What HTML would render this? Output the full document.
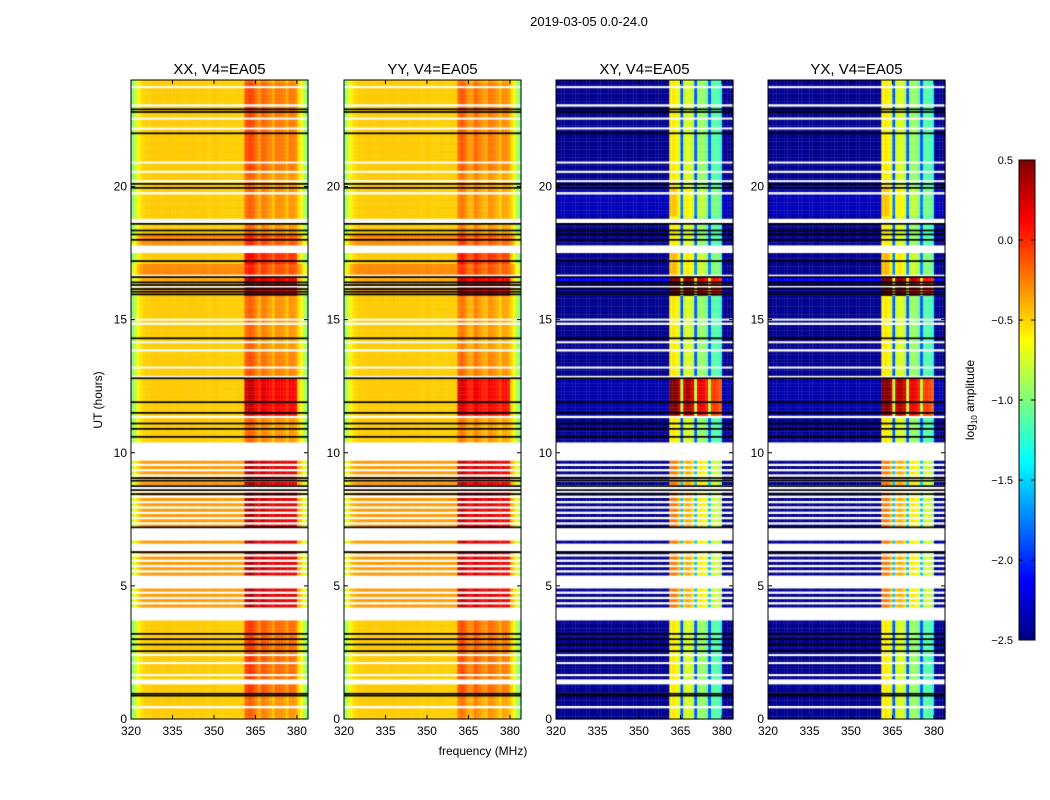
<!DOCTYPE html>
<html><head><meta charset="utf-8">
<style>
body{margin:0;background:#fff;font-family:"Liberation Sans","DejaVu Sans",sans-serif;}
#wrap{position:relative;width:1050px;height:800px;overflow:hidden;}
canvas{position:absolute;left:0;top:0;}
svg{position:absolute;left:0;top:0;}
text{font-family:"Liberation Sans","DejaVu Sans",sans-serif;}
</style></head><body>
<div id="wrap">
<canvas id="cv" width="1050" height="800"></canvas>
<svg id="sv" width="1050" height="800"></svg>
</div>
<script>
// ---- data ----
const panelTitles = ["XX, V4=EA05","YY, V4=EA05","XY, V4=EA05","YX, V4=EA05"];
const xTicks = [320,335,350,365,380];
const yTicks = [0,5,10,15,20];
const cbTicks = [0.5,0.0,-0.5,-1.0,-1.5,-2.0,-2.5];
const cbLabels = ["0.5","0.0","\u22120.5","\u22121.0","\u22121.5","\u22122.0","\u22122.5"];
// per-MHz channel base amplitude, 320..383 MHz (log10)
const parBase = [-1.0,-0.8,-0.65,-0.55,-0.5,-0.48,-0.48,-0.47,-0.47,-0.47,-0.47,-0.47,-0.47,-0.47,-0.47,-0.47,-0.47,-0.47,-0.47,-0.47,
 -0.47,-0.47,-0.47,-0.47,-0.47,-0.47,-0.47,-0.48,-0.48,-0.47,-0.47,-0.48,-0.48,-0.48,-0.48,-0.48,-0.48,-0.48,-0.48,-0.48,
 -0.48,-0.2,-0.15,-0.15,-0.2,-0.3,-0.4,-0.25,-0.25,-0.3,-0.35,-0.45,-0.3,-0.3,-0.3,-0.35,-0.45,-0.3,-0.3,-0.35,-0.5,-0.6,-0.8,-1.0];
const parBase2 = [-0.95,-0.75,-0.6,-0.53,-0.5,-0.48,-0.48,-0.47,-0.47,-0.47,-0.47,-0.47,-0.47,-0.47,-0.47,-0.47,-0.47,-0.47,-0.47,-0.47,
 -0.47,-0.47,-0.47,-0.47,-0.47,-0.47,-0.47,-0.48,-0.48,-0.47,-0.47,-0.48,-0.48,-0.48,-0.48,-0.48,-0.48,-0.48,-0.48,-0.48,
 -0.48,-0.25,-0.2,-0.25,-0.35,-0.4,-0.4,-0.25,-0.3,-0.35,-0.4,-0.45,-0.3,-0.3,-0.35,-0.4,-0.5,-0.35,-0.35,-0.4,-0.5,-0.65,-0.85,-1.0];
const crossBase = [-2.45,-2.45,-2.45,-2.45,-2.45,-2.45,-2.45,-2.45,-2.45,-2.45,-2.45,-2.45,-2.45,-2.45,-2.45,-2.45,-2.45,-2.45,-2.45,-2.45,
 -2.45,-2.45,-2.45,-2.45,-2.45,-2.45,-2.45,-2.45,-2.45,-2.45,-2.45,-2.45,-2.45,-2.45,-2.45,-2.45,-2.45,-2.45,-2.45,-2.45,
 -2.45,-0.6,-0.55,-0.6,-0.75,-1.9,-0.8,-0.7,-0.75,-0.85,-1.9,-0.95,-0.9,-0.95,-1.05,-1.9,-1.15,-1.1,-1.15,-1.25,-2.4,-2.45,-2.45,-2.45];
const parRowBand = [[11.3,12.8,0.45],[15.9,16.6,0.42],[17.1,17.5,0.3],[0.9,3.7,0.12],[4.2,9.85,0.4],[20.6,23.9,0.08],[12.9,13.8,0.05]];
const parRowAll = [[17.85,18.2,0.2],[16.75,17.1,0.2],[4.2,9.85,0.15],[15.9,16.6,0.1]];
const crossRowBand = [[11.3,12.8,1.0],[15.9,16.6,0.9],[4.2,9.85,0.35],[16.75,17.5,0.15]];
const crossRowAll = [[15.9,16.6,0.3],[11.3,12.8,0.08],[18.9,20.0,0.12]];
const whiteSegs = [[23.0,23.1],[19.7,19.85],[18.65,18.8],[17.5,17.8],[16.65,16.75],[14.8,14.9],[13.85,13.95],[12.85,12.9],[11.3,11.45],[9.85,10.45],[3.7,4.2],[1.35,1.5],[0.4,0.55]];
const whiteLines = [23.73,22.55,22.18,20.9,20.55,20.2,16.25,15.0,14.15,13.2,2.4,2.1,1.65];
const stripeSegs = [[4.2,9.85]];
const stripeWhiteSegs = [[6.3,7.1],[8.35,8.8],[5.0,5.6]];
const blackLines = [22.9,22.8,22.0,20.1,19.95,18.6,18.35,18.2,18.0,17.2,16.6,16.4,16.3,16.15,16.05,15.95,14.3,12.8,11.9,11.5,11.1,10.9,10.6,9.05,8.95,8.75,8.6,8.45,7.2,6.27,3.2,3.0,2.8,2.55,0.95,0.88];

// ---- geometry ----
const panelX = [131,344,556,768];
const panelW = 177, pTop = 80, pBot = 719;
const fMin = 320, fMax = 384, tMin = 0, tMax = 24;
function xS(p,f){return panelX[p] + (f-fMin)/(fMax-fMin)*panelW;}
function yS(t){return pBot - (t-tMin)/(tMax-tMin)*(pBot-pTop);}
function jet(v){
  let x=(v+2.5)/3; x=Math.max(0,Math.min(1,x));
  const r=Math.max(0,Math.min(1,1.5-Math.abs(4*x-3)));
  const g=Math.max(0,Math.min(1,1.5-Math.abs(4*x-2)));
  const b=Math.max(0,Math.min(1,1.5-Math.abs(4*x-1)));
  return `rgb(${Math.round(r*255)},${Math.round(g*255)},${Math.round(b*255)})`;
}
function segVal(segs,t){let s=0;for(const g of segs){if(t>=g[0]&&t<g[1])s+=g[2];}return s;}
function inSeg(segs,t){for(const g of segs){if(t>=g[0]&&t<g[1])return true;}return false;}

const cv=document.getElementById('cv'), ctx=cv.getContext('2d');
const dt=0.1, nRows=240;
for(let p=0;p<4;p++){
  const base = p===0?parBase:(p===1?parBase2:crossBase);
  const cross = p>=2;
  for(let i=0;i<nRows;i++){
    const t=(i+0.5)*dt;
    if(inSeg(whiteSegs,t)) continue;
    if(inSeg(stripeSegs,t) && (i%2===1 || inSeg(stripeWhiteSegs,t) && i%3!==0)) continue;
    const ob = cross?segVal(crossRowBand,t):segVal(parRowBand,t);
    const oa = cross?segVal(crossRowAll,t):segVal(parRowAll,t);
    for(let c=0;c<base.length;c++){
      const f=fMin+c;
      const inBand = f>=361 && f<380;
      const v = base[c] + oa + (inBand?ob:0);
      ctx.fillStyle=jet(v);
      const x0=xS(p,f), x1=xS(p,f+1), y0=yS(t+dt/2), y1=yS(t-dt/2);
      ctx.fillRect(x0,y0,x1-x0+0.3,y1-y0+0.3);
    }
  }
  ctx.fillStyle='#fff';
  for(const t of whiteLines){ctx.fillRect(panelX[p],yS(t)-1,panelW,2);}
  ctx.fillStyle='#000';
  for(const t of blackLines){ctx.fillRect(panelX[p],yS(t)-0.8,panelW,1.7);}
}
// colorbar
for(let y=160;y<640;y++){
  const v=0.5-(y-160)/480*3;
  ctx.fillStyle=jet(v);ctx.fillRect(1019,y,16,1);
}

// ---- axes (svg) ----
const NS='http://www.w3.org/2000/svg';
const sv=document.getElementById('sv');
function mk(tag,attrs,parent){const e=document.createElementNS(NS,tag);for(const k in attrs)e.setAttribute(k,attrs[k]);(parent||sv).appendChild(e);return e;}
let e;
e=mk('text',{x:589,y:26,'text-anchor':'middle','font-size':13});e.textContent='2019-03-05 0.0-24.0';


for(let p=0;p<4;p++){
  const g=mk('g',{});
  
  
  e=mk('rect',{x:panelX[p],y:pTop,width:panelW,height:pBot-pTop,fill:'none',stroke:'#000','stroke-width':1},g);
  
  
  e=mk('text',{x:panelX[p]+panelW/2,y:74,'text-anchor':'middle','font-size':15},g);e.textContent=panelTitles[p];
  
  
  for(const f of xTicks){
    const x=xS(p,f);
    mk('line',{x1:x,x2:x,y1:pBot,y2:pBot-4,stroke:'#000'},g);
    mk('line',{x1:x,x2:x,y1:pTop,y2:pTop+4,stroke:'#000'},g);
    e=mk('text',{x:x,y:pBot+16,'text-anchor':'middle','font-size':12},g);e.textContent=f;
    
    
  }
  for(const t of yTicks){
    const y=yS(t);
    mk('line',{x1:panelX[p],x2:panelX[p]+4,y1:y,y2:y,stroke:'#000'},g);
    mk('line',{x1:panelX[p]+panelW,x2:panelX[p]+panelW-4,y1:y,y2:y,stroke:'#000'},g);
    e=mk('text',{x:panelX[p]-4,y:y+4,'text-anchor':'end','font-size':12},g);e.textContent=t;
    
    
  }
}
e=mk('text',{x:0,y:0,'text-anchor':'middle','font-size':12,transform:'translate(102,400) rotate(-90)'});e.textContent='UT (hours)';


e=mk('text',{x:483,y:755,'text-anchor':'middle','font-size':12});e.textContent='frequency (MHz)';


const cb=mk('g',{});


mk('rect',{x:1019,y:160,width:16,height:480,fill:'none',stroke:'#000'},cb);
cbTicks.forEach((v,i)=>{
  const y=160+(0.5-v)/3*480;
  mk('line',{x1:1019,x2:1023,y1:y,y2:y,stroke:'#000'},cb);
  mk('line',{x1:1035,x2:1031,y1:y,y2:y,stroke:'#000'},cb);
  e=mk('text',{x:1013,y:y+4,'text-anchor':'end','font-size':11},cb);e.textContent=cbLabels[i];
  
  
});
e=mk('text',{x:0,y:0,'text-anchor':'middle','font-size':12,transform:'translate(974,400) rotate(-90)'},cb);
e.innerHTML='log<tspan font-size="8" dy="3">10</tspan><tspan dy="-3"> amplitude</tspan>';


</script>
</body></html>
